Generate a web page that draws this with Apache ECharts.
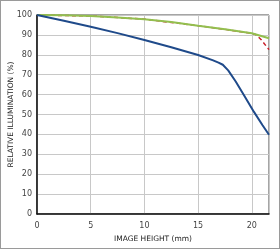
<!DOCTYPE html>
<html>
<head>
<meta charset="utf-8">
<script src="https://cdn.jsdelivr.net/npm/echarts@6/dist/echarts.min.js"></script>
<style>
  html, body { margin: 0; padding: 0; background: #fff; }
  #chart { width: 280px; height: 249px; box-sizing: border-box; border: 1px solid #9a9a9a; }
</style>
</head>
<body>
<div id="chart"></div>
<script>
// image height (mm) vs relative illumination (%)
const wideOpen = [[0, 100], [2.5, 97.1], [5, 94.1], [7.5, 90.9], [10, 87.4], [12.5, 83.8], [15, 79.9], [16.4, 77.2], [16.9, 76.1], [17.3, 75], [17.8, 72.2], [18.5, 66.6], [19.3, 59.4], [20.2, 51.3], [21.0, 44.6], [21.6, 39.8]];
const stoppedDown = [[0, 100], [2.5, 99.9], [5, 99.5], [7.5, 98.8], [10, 97.9], [12.5, 96.5], [15, 94.6], [17.5, 92.8], [20, 90.8], [21.6, 88.3]];
const stoppedDownRed = [[0, 100], [5, 99.5], [10, 97.9], [15, 94.6], [17.5, 92.8], [20, 90.8], [20.4, 90.1], [20.9, 87.4], [21.6, 82.6]];
const xTicks = [0, 5, 10, 15, 20];

const chart = echarts.init(document.getElementById('chart'));
const font = 'DejaVu Sans';

chart.setOption({
  animation: false,
  grid: { left: 36, top: 14, right: 10, bottom: 34, outerBoundsMode: 'none', show: true, borderColor: '#4a4a4a', borderWidth: 1 },
  xAxis: {
    type: 'value', min: 0, max: 21.6, interval: 5,
    name: 'IMAGE HEIGHT (mm)', nameLocation: 'middle', nameGap: 21, nameMoveOverlap: false,
    nameTextStyle: { color: '#222', fontFamily: font, fontSize: 7.5, fontWeight: 500 },
    axisLine: { lineStyle: { color: '#111', width: 1.5 } },
    axisTick: { show: false },
    axisLabel: { color: '#444', fontFamily: font, fontSize: 8, margin: 8,
      formatter: v => xTicks.includes(v) ? String(v) : '' },
    splitLine: { lineStyle: { color: '#c8c8c8', width: 1 } }
  },
  yAxis: {
    type: 'value', min: 0, max: 100, interval: 10,
    name: 'RELATIVE ILLUMINATION (%)', nameLocation: 'middle', nameGap: 22, nameMoveOverlap: false,
    nameTextStyle: { color: '#222', fontFamily: font, fontSize: 7.5, fontWeight: 500 },
    axisLine: { show: true, lineStyle: { color: '#111', width: 1.5 } },
    axisTick: { show: false },
    axisLabel: { color: '#444', fontFamily: font, fontSize: 8, margin: 5 },
    splitLine: { lineStyle: { color: '#c8c8c8', width: 1 } }
  },
  series: [
    { type: 'line', data: stoppedDownRed, symbol: 'none', z: 2,
      lineStyle: { color: '#c8202a', width: 1.5, type: [4, 3] } },
    { type: 'line', data: stoppedDown, symbol: 'none', z: 3,
      lineStyle: { color: '#93bf4f', width: 2 } },
    { type: 'line', data: wideOpen, symbol: 'none', z: 4,
      lineStyle: { color: '#1f4a8a', width: 2 } }
  ]
});
</script>
</body>
</html>
